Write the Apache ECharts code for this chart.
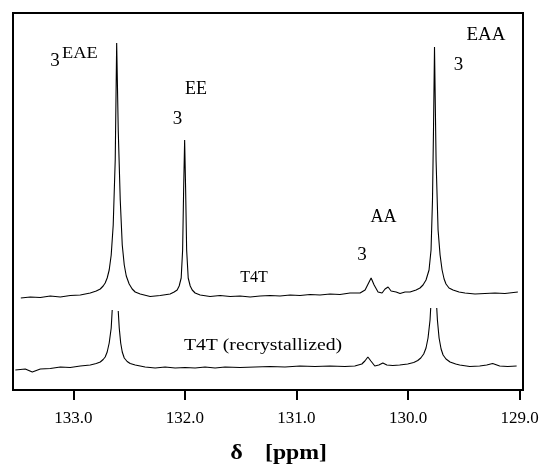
<!DOCTYPE html>
<html>
<head>
<meta charset="utf-8">
<script src="https://cdn.jsdelivr.net/npm/echarts@6/dist/echarts.min.js"></script>
<style>
html,body{margin:0;padding:0;background:#fff;}
#chart{width:547px;height:465px;}
</style>
</head>
<body>
<div id="chart"></div>
<script>
// Chemical shift (ppm) and intensity (arbitrary units)
var upperPpm = [133.47,133.385,133.295,133.206,133.116,133.027,132.937,132.848,132.794,132.758,132.732,132.714,132.696,132.678,132.660,132.642,132.624,132.611,132.597,132.579,132.561,132.543,132.525,132.499,132.472,132.445,132.400,132.311,132.221,132.132,132.096,132.069,132.051,132.033,132.020,132.011,132.002,131.993,131.984,131.970,131.952,131.934,131.908,131.863,131.774,131.684,131.594,131.505,131.415,131.326,131.236,131.147,131.057,130.968,130.878,130.789,130.699,130.610,130.520,130.430,130.385,130.358,130.331,130.304,130.269,130.233,130.206,130.179,130.152,130.107,130.072,130.027,129.982,129.928,129.893,129.866,129.839,129.812,129.794,129.781,129.772,129.763,129.749,129.731,129.713,129.695,129.677,129.660,129.633,129.597,129.543,129.490,129.400,129.311,129.221,129.132,129.016];
var upperVal = [92,93,92.5,94,93,94.5,95,97,99,101,104,107,112,120,135,165,230,347,260,190,145,125,114,106,101,98,96,93.5,94.5,96,98,100,104,112,140,200,250,200,140,112,104,100,97,95,93.5,94.5,93.5,94,93,94,94.5,94,95,94.5,95.5,95,96,95.5,97,97,100,106,112,105,98,97,101,103,99,98,96.5,98,98,100,102,105,110,120,140,190,260,343,230,160,135,120,111,106,102,100,98,97,96,96.5,97,96.5,98];

var lowerPpm = [133.519,133.430,133.367,133.295,133.206,133.116,133.027,132.937,132.848,132.794,132.758,132.732,132.714,132.696,132.678,132.660,132.651,132.624,132.597,132.588,132.575,132.561,132.543,132.517,132.490,132.445,132.356,132.266,132.177,132.087,131.998,131.908,131.819,131.729,131.640,131.506,131.371,131.237,131.103,130.969,130.834,130.700,130.566,130.477,130.414,130.387,130.360,130.333,130.298,130.262,130.226,130.190,130.137,130.075,130.003,129.949,129.913,129.886,129.860,129.839,129.821,129.803,129.797,129.770,129.743,129.737,129.722,129.704,129.686,129.660,129.624,129.573,129.537,129.447,129.358,129.295,129.242,129.179,129.107,129.027];
var lowerVal = [20,21,18,21,21.5,23,22.5,24,25,26.5,28,30.5,33,38,47,62,80,null,79,62,47,38,32,28.5,26.5,25,23,22,23,22,22.5,22,23,22,23,22.5,23,23.5,23,24,23.5,24,23.5,24,26,29,33,29,24,25,27,25,24.5,25,26,27.5,29.5,32,36,42,52,70,82,null,82,70,52,41,35,31,28,26,25,23.5,24,25,26.5,24,23.5,24];

var tickValues = [129, 130, 131, 132, 133];

function pairs(xs, ys) {
  return xs.map(function (x, i) { return [x, ys[i] === null ? '-' : ys[i]]; });
}

var serif = '"Liberation Serif", "Times New Roman", serif';
function txt(s, x, y, size, opts) {
  opts = opts || {};
  return {
    type: 'text', x: x, y: y, scaleX: opts.sx || 1, z: 10,
    style: { text: s, x: 0, y: 0, font: (opts.weight || 'normal') + ' ' + size + 'px ' + serif, fill: '#000',
      textAlign: opts.align || 'center', textVerticalAlign: 'middle' }
  };
}

var chart = echarts.init(document.getElementById('chart'), null, { renderer: 'canvas' });
chart.setOption({
  animation: false,
  backgroundColor: '#fff',
  grid: { left: 13, right: 24, top: 13, bottom: 75, show: true, borderColor: '#000', borderWidth: 2, backgroundColor: 'transparent' },
  xAxis: {
    type: 'value', inverse: true, min: 128.97, max: 133.54,
    splitLine: { show: false },
    axisLine: { show: true, onZero: false, lineStyle: { color: '#000', width: 2 } },
    axisTick: { show: true, inside: false, length: 10, customValues: tickValues, lineStyle: { color: '#000', width: 2 } },
    axisLabel: { show: true, customValues: tickValues, margin: 20, color: '#000', fontSize: 17, fontFamily: serif,
      formatter: function (v) { return v.toFixed(1); } }
  },
  yAxis: { type: 'value', min: 0, max: 377, show: false },
  series: [
    { type: 'line', data: pairs(upperPpm, upperVal), symbol: 'none', connectNulls: false, lineStyle: { color: '#000', width: 1.1 } },
    { type: 'line', data: pairs(lowerPpm, lowerVal), symbol: 'none', connectNulls: false, lineStyle: { color: '#000', width: 1.1 } }
  ],
  graphic: [
    txt('3', 55, 61, 19),
    txt('EAE', 62, 54, 16, { align: 'left', sx: 1.15 }),
    txt('EE', 196, 89, 18),
    txt('3', 177.5, 119, 19),
    txt('EAA', 486, 35, 19),
    txt('3', 458.5, 65.5, 19),
    txt('AA', 383.5, 217, 18),
    txt('3', 362, 255, 19),
    txt('T4T', 254, 277.5, 16),
    txt('T4T (recrystallized)', 263, 345.5, 17, { sx: 1.16 }),
    txt('δ', 236.5, 453, 22, { weight: 'bold', sx: 1.1 }),
    txt('[ppm]', 296, 453, 22, { weight: 'bold', sx: 1.08 })
  ]
});
</script>
</body>
</html>
